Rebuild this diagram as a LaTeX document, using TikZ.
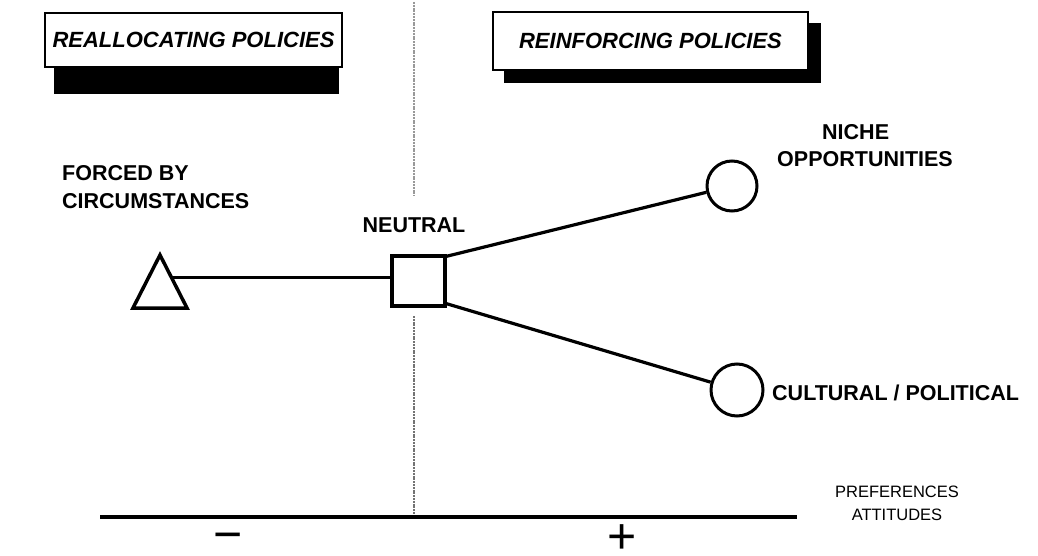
\documentclass[tikz,border=0pt]{standalone}
\usepackage{fontspec}
\setmainfont{Liberation Sans}
\usetikzlibrary{calc,backgrounds}
\begin{document}
\begin{tikzpicture}[x=1pt,y=-1pt,
  titlebox/.style={draw,line width=2pt,fill=white,rectangle,inner sep=0pt,
    font=\fontsize{22}{26}\selectfont\bfseries\itshape},
  lbl/.style={inner sep=0pt,font=\fontsize{21.5}{27.5}\selectfont\bfseries},
  small/.style={inner sep=0pt,font=\fontsize{16.5}{23}\selectfont},
  shp/.style={draw,line width=3.5pt,fill=white},
  conn/.style={line width=3.2pt},
  divider/.style={draw=black!55,line width=2.6pt,dash pattern=on 2pt off 0.8pt},
  sign/.style={inner sep=0pt,font=\fontsize{50}{50}\selectfont}
]
\useasboundingbox (0,0) rectangle (1038,556);

% divider
\coordinate (d1) at (414,2);
\coordinate (d2) at (414,196);
\coordinate (d3) at (414,316);
\coordinate (d4) at (414,517);
\draw[divider,draw=black!40] (d1) -- (d2);
\draw[divider] (d3) -- (d4);

% title boxes
\node[titlebox,minimum width=297,minimum height=54] (lb) at (193.5,40) {REALLOCATING POLICIES};
\node[titlebox,minimum width=315,minimum height=58] (rb) at (650.5,41) {REINFORCING POLICIES};
\begin{scope}[on background layer]
\fill ([xshift=10pt,yshift=-27pt]lb.north west) rectangle ([xshift=-4pt,yshift=-26pt]lb.south east);
\fill ([xshift=12pt,yshift=-12pt]rb.north west) rectangle ([xshift=12pt,yshift=-12pt]rb.south east);
\end{scope}

% triangle
\coordinate (triA) at (160,255);
\coordinate (triL) at (133,308);
\coordinate (triR) at (187,308);
\draw[shp,line join=miter] (triA) -- (triL) -- (triR) -- cycle;
\coordinate (triE) at ($(triA)!0.43!(triR)$);

% square and circles
\node[shp,rectangle,minimum width=53,minimum height=50,inner sep=0] (sq) at (418.5,281) {};
\node[shp,circle,minimum size=50,line width=3pt,inner sep=0] (c1) at (732,186) {};
\node[shp,circle,minimum size=52,line width=3pt,inner sep=0] (c2) at (737,390) {};

% connectors
\draw[conn] (triE) -- (sq.west |- triE);
\draw[conn] ([yshift=-2pt]sq.north east) -- (c1);
\draw[conn] ([yshift=4pt]sq.south east) -- (c2);

% labels
\node[lbl,align=left,anchor=base west] (lf) at (62,208) {FORCED BY\\CIRCUMSTANCES};
\node[lbl,anchor=base] (ln) at (414,232) {NEUTRAL};
\node[lbl,align=left,anchor=base west] (lo) at (777,167) {\hspace*{45pt}NICHE\\OPPORTUNITIES};
\node[lbl,anchor=base west] (lc) at (772,400) {CULTURAL / POLITICAL};

% axis
\coordinate (axL) at (100,517);
\coordinate (axR) at (797,517);
\draw[line width=3.5pt] (axL) -- (axR);
\node[sign] (minus) at (228,542) {\char"2212};
\node[sign] (plus) at (622,539) {+};
\node[small,align=center,anchor=base] (lp) at (897,520) {PREFERENCES\\ATTITUDES};
\end{tikzpicture}
\end{document}
